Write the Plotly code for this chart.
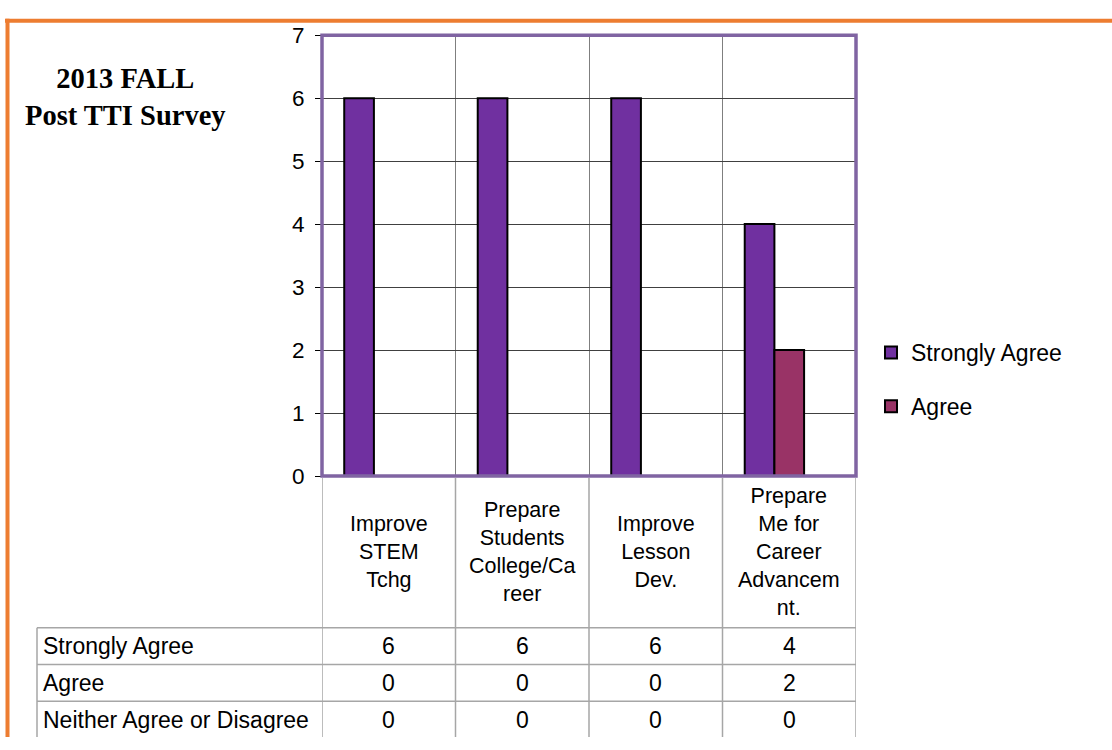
import plotly.graph_objects as go

# ---------------- data ----------------
categories = ["Improve STEM Tchg", "Prepare Students College/Career",
              "Improve Lesson Dev.", "Prepare Me for Career Advancement."]
category_labels = ["Improve<br>STEM<br>Tchg",
                   "Prepare<br>Students<br>College/Ca<br>reer",
                   "Improve<br>Lesson<br>Dev.",
                   "Prepare<br>Me for<br>Career<br>Advancem<br>nt."]
series_names = ["Strongly Agree", "Agree", "Neither Agree or Disagree"]
strongly_agree = [6, 6, 6, 4]
agree = [0, 0, 0, 2]
neither = [0, 0, 0, 0]
series_values = [strongly_agree, agree, neither]
series_colors = ["#7030A0", "#993366", "#E6B9B8"]
series_in_legend = [True, True, False]
title_lines = ["2013 FALL", "Post TTI Survey"]
y_ticks = [0, 1, 2, 3, 4, 5, 6, 7]

W, H = 1112, 750
FONT = "Liberation Sans, Arial, sans-serif"


def px_x(x):
    return x / W


def px_y(y):
    return (H - y) / H


fig = go.Figure()
for name, vals, col, show in zip(series_names, series_values, series_colors, series_in_legend):
    fig.add_trace(go.Bar(
        x=categories, y=vals, name=name, showlegend=show, legendgroup=name,
        marker=dict(color=col, line=dict(color="#000000", width=2)),
    ))

plot_left, plot_right, plot_top, plot_bottom = 322, 856, 24, 480

shapes = []
# orange frame
shapes.append(dict(type="line", xref="paper", yref="paper", x0=px_x(5), x1=1.0,
                   y0=px_y(9), y1=px_y(9), line=dict(color="#ED7D31", width=4)))
shapes.append(dict(type="line", xref="paper", yref="paper", x0=px_x(7.5), x1=px_x(7.5),
                   y0=0, y1=px_y(7), line=dict(color="#ED7D31", width=4)))

# table vertical lines (header + data rows)
n = len(categories)
for i in range(n + 1):
    shapes.append(dict(type="line", xref="x", yref="paper", x0=i - 0.5, x1=i - 0.5,
                       y0=0, y1=px_y(plot_bottom + 2), line=dict(color="#A6A6A6", width=1.5)))
# left edge of table rows
row_tops = [637, 675, 713]
row_h = 38
shapes.append(dict(type="line", xref="paper", yref="paper", x0=px_x(37), x1=px_x(37),
                   y0=0, y1=px_y(row_tops[0]), line=dict(color="#A6A6A6", width=1.5)))
for rt in row_tops:
    shapes.append(dict(type="line", xref="paper", yref="paper", x0=px_x(37), x1=px_x(plot_right),
                       y0=px_y(rt), y1=px_y(rt), line=dict(color="#A6A6A6", width=1.5)))

# purple plot border
shapes.append(dict(type="rect", xref="x domain", yref="y domain", x0=0, x1=1, y0=0, y1=1,
                   line=dict(color="#8064A2", width=3.5), layer="above"))

annotations = []
# title
annotations.append(dict(xref="paper", yref="paper", x=px_x(125), y=px_y(88),
                        text="<br>".join("<b>%s</b>" % t for t in title_lines),
                        showarrow=False, xanchor="center", yanchor="middle",
                        font=dict(family="Liberation Serif, Times New Roman, serif", size=28.5, color="#000000")))
# category header labels
for cat, lab in zip(categories, category_labels):
    annotations.append(dict(xref="x", yref="paper", x=cat, y=px_y((plot_bottom + row_tops[0]) / 2),
                            text=lab, showarrow=False, xanchor="center", yanchor="middle",
                            font=dict(family=FONT, size=21.5, color="#000000")))
# table rows
for r, (name, vals) in enumerate(zip(series_names, series_values)):
    yc = px_y(row_tops[r] + row_h / 2)
    annotations.append(dict(xref="paper", yref="paper", x=px_x(41), y=yc, text=name,
                            showarrow=False, xanchor="left", yanchor="middle",
                            font=dict(family=FONT, size=23, color="#000000")))
    for cat, v in zip(categories, vals):
        annotations.append(dict(xref="x", yref="paper", x=cat, y=yc, text=str(v),
                                showarrow=False, xanchor="center", yanchor="middle",
                                font=dict(family=FONT, size=23, color="#000000")))

fig.update_layout(
    width=W, height=H,
    margin=dict(l=0, r=0, t=0, b=0),
    paper_bgcolor="#FFFFFF", plot_bgcolor="#FFFFFF",
    barmode="group", bargap=0.333, bargroupgap=0,
    xaxis=dict(domain=[px_x(plot_left), px_x(plot_right)], type="category",
               tickson="boundaries", showgrid=True, gridcolor="#7F7F7F", gridwidth=1.2,
               showticklabels=False, ticks="", showline=False, zeroline=False,
               range=[-0.5, n - 0.5]),
    yaxis=dict(domain=[px_y(plot_bottom), px_y(plot_top)], range=[0, 7],
               tickvals=y_ticks, showgrid=True, gridcolor="#404040", gridwidth=1.2,
               ticks="outside", ticklen=6, tickcolor="#000000", tickwidth=1.2,
               ticklabelstandoff=6,
               tickfont=dict(family=FONT, size=22.5, color="#000000"),
               showline=False, zeroline=False),
    legend=dict(x=px_x(871), y=px_y(330), xanchor="left", yanchor="top",
                font=dict(family=FONT, size=23, color="#000000"),
                tracegroupgap=21, bgcolor="rgba(0,0,0,0)"),
    shapes=shapes, annotations=annotations,
)

fig.write_html("out.html")
